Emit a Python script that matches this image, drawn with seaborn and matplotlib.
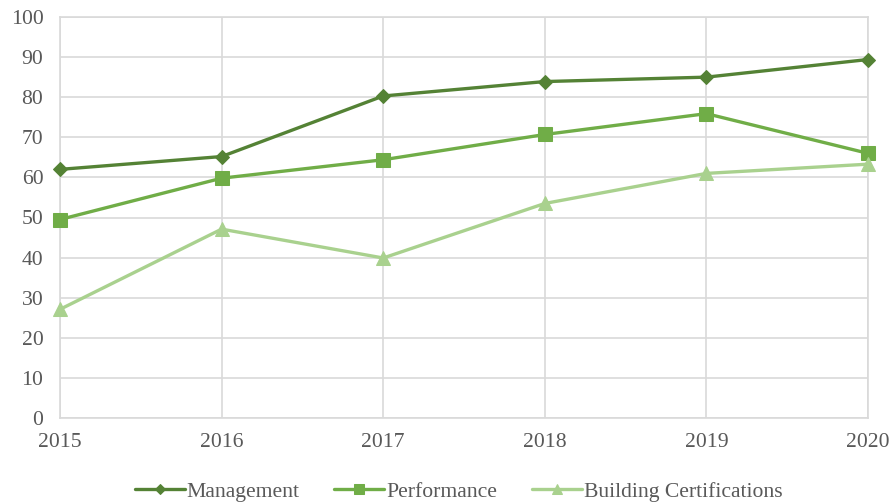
import matplotlib
matplotlib.use("Agg")
import matplotlib.pyplot as plt
import seaborn as sns
import pandas as pd

years = [2015, 2016, 2017, 2018, 2019, 2020]
management = [62.0, 65.2, 80.3, 83.9, 85.0, 89.4]
performance = [49.5, 59.8, 64.4, 70.7, 75.9, 66.0]
building_cert = [27.1, 47.1, 39.9, 53.5, 61.0, 63.3]
series_names = ["Management", "Performance", "Building Certifications"]
colors = ["#548235", "#70AD47", "#A9D18E"]
markers = ["D", "s", "^"]
marker_sizes = [7.5, 10, 10.5]
legend_marker_sizes = [5.5, 7.5, 7.5]

df = pd.DataFrame({
    "Year": years * 3,
    "Value": management + performance + building_cert,
    "Series": [series_names[0]] * 6 + [series_names[1]] * 6 + [series_names[2]] * 6,
})

sns.set_theme(style="white")
plt.rcParams["font.family"] = ["Liberation Serif", "DejaVu Serif"]

fig = plt.figure(figsize=(8.94, 5.04), dpi=100)
ax = fig.add_axes([60 / 894, 1 - 418 / 504, 808 / 894, 401 / 504])

for name, col, mk, ms in zip(series_names, colors, markers, marker_sizes):
    sub = df[df["Series"] == name]
    sns.lineplot(data=sub, x="Year", y="Value", ax=ax, color=col, marker=mk,
                 markersize=ms, markeredgecolor=col, linewidth=2.4, label=name,
                 zorder=3)
for ln in ax.lines:
    ln.set_clip_on(False)

ax.set_xlim(2015, 2020)
ax.set_ylim(0, 100)
ax.set_xticks(years)
ax.set_xticklabels([str(y) for y in years])
ax.set_yticks(range(0, 101, 10))
ax.grid(True, color="#D9D9D9", linewidth=1.2)
ax.set_axisbelow(True)
for s in ax.spines.values():
    s.set_color("#D9D9D9")
    s.set_linewidth(1.2)
ax.tick_params(axis="both", length=0, labelsize=15.6, labelcolor="#595959")
ax.tick_params(axis="y", pad=12)
ax.tick_params(axis="x", pad=10.5)
ax.set_xlabel("")
ax.set_ylabel("")
ax.get_legend().remove()

handles, labels = ax.get_legend_handles_labels()
leg = fig.legend(handles, labels, loc="center", bbox_to_anchor=(0.513, 0.024),
                 ncol=3, frameon=False, fontsize=15.6, handlelength=2.3,
                 handletextpad=0.1, columnspacing=1.6)
for t in leg.get_texts():
    t.set_color("#595959")
for h, ms in zip(leg.legend_handles, legend_marker_sizes):
    h.set_markersize(ms)

fig.savefig("out.png", dpi=100)
